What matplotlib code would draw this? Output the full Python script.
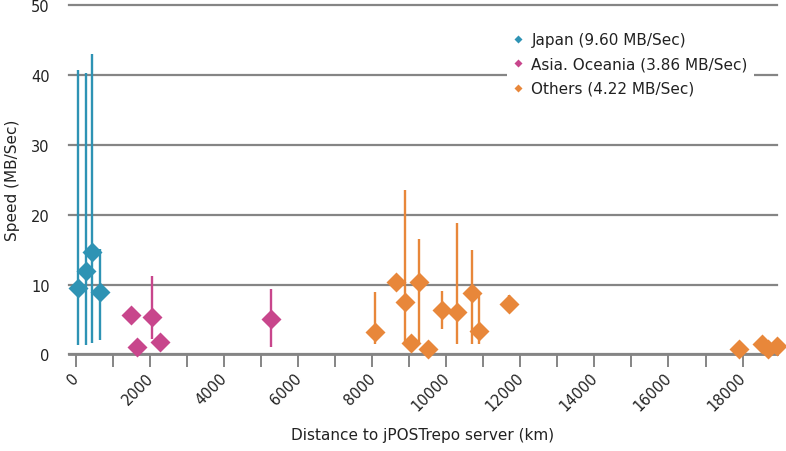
import numpy as np
import matplotlib
matplotlib.use("Agg")
import matplotlib.pyplot as plt
from matplotlib.ticker import MultipleLocator
from matplotlib.transforms import ScaledTranslation

plt.rcParams['font.family'] = ['DejaVu Sans']

# Japan
jp_x = [54, 278, 449, 665]
jp_y = [9.5, 12.0, 14.6, 8.9]
jp_lo = [1.3, 1.3, 1.7, 2.1]
jp_hi = [40.7, 40.3, 43.0, 15.1]

# Asia. Oceania
as_x = [1484, 1646, 2051, 2275, 5271]
as_y = [5.66, 1.03, 5.33, 1.84, 5.09]
as_lo = [5.66, 1.03, 2.2, 1.84, 1.07]
as_hi = [5.66, 1.03, 11.3, 1.84, 9.4]

# Others
ot_x = [8078, 8645, 8888, 9050, 9274, 9500, 9886, 10291, 10696, 10876, 11686,
        17894, 18515, 18693, 18920]
ot_y = [3.18, 10.4, 7.57, 1.6, 10.4, 0.79, 6.42, 6.04, 8.8, 3.4, 7.2,
        0.79, 1.5, 0.8, 1.26]
ot_lo = [1.5, 10.4, 1.5, 1.6, 1.8, 0.79, 3.65, 1.5, 1.5, 1.5, 7.2,
         0.79, 1.5, 0.8, 1.26]
ot_hi = [8.9, 10.4, 23.6, 1.6, 16.5, 0.79, 9.1, 18.8, 14.9, 8.4, 8.5,
         0.79, 1.5, 0.8, 1.26]

labels = ["Japan (9.60 MB/Sec)", "Asia. Oceania (3.86 MB/Sec)", "Others (4.22 MB/Sec)"]
colors = ["#2e93b4", "#c8468c", "#e8873a"]

fig = plt.figure(figsize=(7.86, 4.52), dpi=100)
ax = fig.add_axes([0.0878, 0.2135, 0.9008, 0.7732])

groups = [(jp_x, jp_y, jp_lo, jp_hi), (as_x, as_y, as_lo, as_hi), (ot_x, ot_y, ot_lo, ot_hi)]
for (x, y, lo, hi), c, lab in zip(groups, colors, labels):
    x = np.array(x); y = np.array(y); lo = np.array(lo); hi = np.array(hi)
    ax.vlines(x, lo, hi, colors=c, lw=1.7, zorder=3)
    ax.plot(x, y, linestyle='none', marker='D', ms=10, color=c, mec='none',
            zorder=4, clip_on=False, label=lab)

ax.set_xlim(-180, 18930)
ax.set_ylim(0, 50)
ax.yaxis.set_major_locator(MultipleLocator(10))
ax.xaxis.set_major_locator(MultipleLocator(2000))
ax.xaxis.set_minor_locator(MultipleLocator(1000))
ax.grid(axis='y', color='#858585', lw=1.6, zorder=0)
ax.set_axisbelow(True)
for gl in ax.get_ygridlines():
    gl.set_clip_on(False)

for s in ['top', 'right', 'left']:
    ax.spines[s].set_visible(False)
ax.spines['bottom'].set_color('#858585')
ax.spines['bottom'].set_linewidth(2.0)

ax.tick_params(axis='y', length=0, pad=14, labelsize=10.5, labelcolor='#222222')
ax.tick_params(axis='x', which='both', length=9, width=1.4, color='#858585',
               labelsize=10.5, labelcolor='#222222', pad=2)
offset = ScaledTranslation(-3 / 72, 0, fig.dpi_scale_trans)
for lbl in ax.get_xticklabels():
    lbl.set_rotation(45)
    lbl.set_ha('right')
    lbl.set_rotation_mode('anchor')
    lbl.set_transform(lbl.get_transform() + offset)

ax.set_xlabel("Distance to jPOSTrepo server (km)", fontsize=11, color='#222222', labelpad=10)
ax.set_ylabel("Speed (MB/Sec)", fontsize=11, color='#222222', labelpad=8)

leg = ax.legend(loc='upper right', bbox_to_anchor=(0.978, 0.962), frameon=True,
                fontsize=11, markerscale=0.4, handlelength=0.6, handletextpad=0.6,
                labelspacing=0.62, borderpad=0.4)
leg.get_frame().set_edgecolor('none')
leg.get_frame().set_facecolor('white')
leg.get_frame().set_alpha(1)
for t in leg.get_texts():
    t.set_color('#222222')

fig.savefig("out.png", dpi=100)
